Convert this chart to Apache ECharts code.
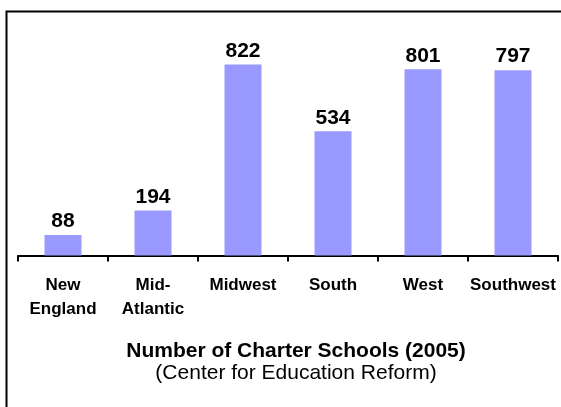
<!DOCTYPE html>
<html>
<head>
<meta charset="utf-8">
<script src="https://cdn.jsdelivr.net/npm/echarts@6/dist/echarts.min.js"></script>
<style>
  html, body { margin: 0; padding: 0; background: #fff; }
  #chart { width: 561px; height: 407px; }
</style>
</head>
<body>
<div id="chart"></div>
<script>
// data
const regions = ['New\nEngland', 'Mid-\nAtlantic', 'Midwest', 'South', 'West', 'Southwest'];
const schools = [88, 194, 822, 534, 801, 797];
const titleText = 'Number of Charter Schools (2005)';
const sourceText = '(Center for Education Reform)';

const font = 'Arial, "Liberation Sans", Helvetica, sans-serif';

const chart = echarts.init(document.getElementById('chart'), null, { renderer: 'canvas' });

const option = {
  animation: false,
  backgroundColor: '#fff',
  textStyle: { fontFamily: font },
  // frame round the chart, only its top and left edges are inside the picture
  graphic: [{
    type: 'polyline',
    shape: { points: [[6.5, 407], [6.5, 11.5], [561, 11.5]] },
    style: { fill: 'none', stroke: '#000', lineWidth: 2 },
    silent: true
  }],
  title: [{
    text: titleText,
    left: 291,
    top: 336,
    textAlign: 'center',
    textStyle: { fontFamily: font, fontSize: 21, fontWeight: 'bold', color: '#000' }
  }, {
    text: sourceText,
    left: 291,
    top: 358,
    textAlign: 'center',
    textStyle: { fontFamily: font, fontSize: 21, fontWeight: 'normal', color: '#000' }
  }],
  grid: {
    left: 18,
    right: 3,
    top: 23,
    bottom: 151.5,
    containLabel: false
  },
  xAxis: {
    type: 'category',
    data: regions,
    boundaryGap: true,
    axisLine: { lineStyle: { color: '#000', width: 2 } },
    axisTick: { show: true, inside: false, length: 6, lineStyle: { color: '#000', width: 2 } },
    axisLabel: {
      interval: 0,
      margin: 18,
      color: '#000',
      fontFamily: font,
      fontSize: 17,
      fontWeight: 'bold',
      lineHeight: 24
    }
  },
  yAxis: {
    type: 'value',
    min: 0,
    max: 1000,
    show: false,
    splitLine: { show: false }
  },
  series: [{
    type: 'bar',
    data: schools,
    barWidth: 37,
    itemStyle: { color: '#9999FF' },
    label: {
      show: true,
      position: 'top',
      distance: 3,
      color: '#000',
      fontFamily: font,
      fontSize: 21,
      fontWeight: 'bold'
    }
  }]
};

chart.setOption(option);
</script>
</body>
</html>
